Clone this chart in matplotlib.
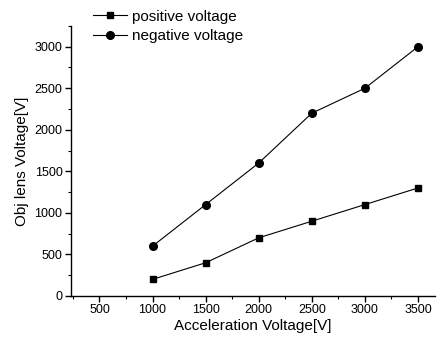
import matplotlib
matplotlib.use("Agg")
import matplotlib.pyplot as plt
from matplotlib.ticker import MultipleLocator

plt.rcParams['font.family'] = ['Liberation Sans Narrow', 'Liberation Sans', 'DejaVu Sans']

# data
accel = [1000, 1500, 2000, 2500, 3000, 3500]
positive = [200, 400, 700, 900, 1100, 1300]
negative = [600, 1100, 1600, 2200, 2500, 3000]

fig = plt.figure(figsize=(4.48, 3.41), dpi=100)
ax = fig.add_axes([0.158, 0.132, 0.813, 0.792])

ax.plot(accel, positive, '-s', color='black', lw=0.8, ms=5, label='positive voltage')
ax.plot(accel, negative, '-o', color='black', lw=0.8, ms=5.5, label='negative voltage')

ax.set_xlim(230, 3660)
ax.set_ylim(0, 3250)
ax.xaxis.set_major_locator(MultipleLocator(500))
ax.xaxis.set_minor_locator(MultipleLocator(250))
ax.yaxis.set_major_locator(MultipleLocator(500))
ax.yaxis.set_minor_locator(MultipleLocator(250))
ax.set_xticks([500, 1000, 1500, 2000, 2500, 3000, 3500])

for s in ['top', 'right']:
    ax.spines[s].set_visible(False)
for s in ['left', 'bottom']:
    ax.spines[s].set_linewidth(1.0)

ax.tick_params(which='major', direction='out', length=4, width=1, labelsize=9, pad=2)
ax.tick_params(which='minor', direction='out', length=2, width=0.8)

ax.set_xlabel('Acceleration Voltage[V]', fontsize=11, labelpad=2)
ax.set_ylabel('Obj lens Voltage[V]', fontsize=11, labelpad=4)

fig.legend(loc='upper left', bbox_to_anchor=(0.195, 0.99), frameon=False,
           fontsize=11, handlelength=2.2, handletextpad=0.3, labelspacing=0.35,
           borderaxespad=0)

fig.savefig('out.png', dpi=100)
